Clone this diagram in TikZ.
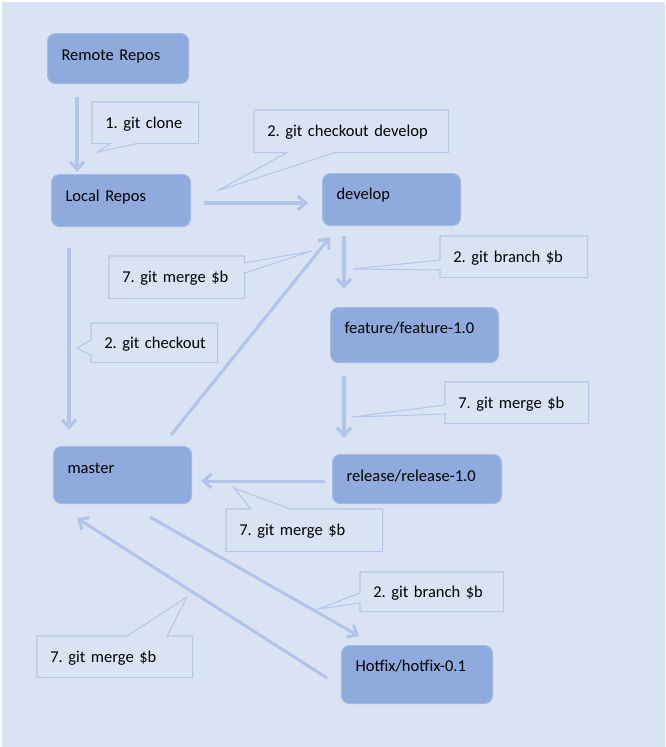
\documentclass[tikz,border=0pt]{standalone}
\usepackage{fontspec}
\setmainfont{Carlito}
\usetikzlibrary{arrows.meta,calc}
\definecolor{bgcol}{HTML}{DAE3F3}
\definecolor{boxfill}{HTML}{8FAADC}
\definecolor{boxline}{HTML}{A2B9E2}
\definecolor{cline}{HTML}{B4C7E7}
\definecolor{arrcol}{HTML}{B2C5E7}
\pgfdeclarelayer{back}
\pgfdeclarelayer{mid}
\pgfsetlayers{back,mid,main}
\tikzset{
  box/.style={draw=boxline, line width=0.8pt, fill=boxfill, rounded corners=6pt,
    anchor=north west, align=left, inner xsep=10.5pt, inner ysep=0pt,
    text height=8.5pt, font=\fontsize{12.4}{14}\selectfont\frenchspacing},
  ctext/.style={anchor=north west, align=left, inner xsep=9.75pt, inner ysep=0pt,
    text height=8.5pt, text depth=0.5pt, font=\fontsize{12.4}{14}\selectfont\frenchspacing},
  callshape/.style={draw=cline, line width=0.8pt, fill=bgcol, line join=miter},
  arr/.style={draw=arrcol, line width=2.3pt, -{Straight Barb[length=6pt,width=10.5pt]}},
}
\begin{document}
\begin{tikzpicture}[x=0.75pt,y=-0.75pt]
\useasboundingbox (0,0) rectangle (665,747);
\begin{pgfonlayer}{back}
\fill[bgcol] (2,2) rectangle (665,747);
\end{pgfonlayer}

% boxes
\node[box, minimum width=105.75pt, minimum height=37.5pt, text width=84.75pt, text depth=5pt] (remote) at (47,33) {Remote Repos};
\node[box, minimum width=104.25pt, minimum height=39pt, text width=83.25pt, text depth=7.25pt] (local) at (51,174) {Local Repos};
\node[box, minimum width=103.5pt, minimum height=39pt, text width=82.5pt, text depth=8pt] (develop) at (322,173) {develop};
\node[box, minimum width=126pt, minimum height=41.25pt, text width=105pt, text depth=11pt] (feature) at (330,307) {feature/feature-1.0};
\node[box, minimum width=126.75pt, minimum height=36.75pt, text width=105.75pt, text depth=4.25pt] (release) at (332,454) {release/release-1.0};
\node[box, minimum width=103.5pt, minimum height=42.75pt, text width=82.5pt, text depth=11pt] (master) at (53,446) {master};
\node[box, minimum width=113.25pt, minimum height=43.5pt, text width=92.25pt, text depth=12.5pt] (hotfix) at (341,645) {Hotfix/hotfix-0.1};

% callout texts
\node[ctext, minimum width=79.5pt, minimum height=30.75pt, text width=60pt] (c1) at (92,102) {\mbox{1. git clone}};
\node[ctext, minimum width=145.5pt, minimum height=31.5pt, text width=126pt] (c2) at (254,110) {\mbox{2. git checkout develop}};
\node[ctext, minimum width=101.25pt, minimum height=31.5pt, text width=81.75pt] (c3) at (109,256) {\mbox{7. git merge \$b}};
\node[ctext, minimum width=94.5pt, minimum height=29.25pt, text width=75pt] (c4) at (91,323) {\mbox{2. git checkout}};
\node[ctext, minimum width=110.25pt, minimum height=30.75pt, text width=90.75pt] (c5) at (440,236) {\mbox{2. git branch \$b}};
\node[ctext, minimum width=107.25pt, minimum height=30.75pt, text width=87.75pt] (c6) at (445,382) {\mbox{7. git merge \$b}};
\node[ctext, minimum width=117pt, minimum height=31.5pt, text width=97.5pt] (c7) at (226,509) {\mbox{7. git merge \$b}};
\node[ctext, minimum width=107.25pt, minimum height=29.25pt, text width=87.75pt] (c8) at (360,572) {\mbox{2. git branch \$b}};
\node[ctext, minimum width=116.25pt, minimum height=30.75pt, text width=96.75pt] (c9) at (37,636) {\mbox{7. git merge \$b}};

% pointer tips
\coordinate (t1) at (98,152);
\coordinate (t2) at (217,191);
\coordinate (t3) at (312,251);
\coordinate (t4) at (77,348);
\coordinate (t5) at (353,269);
\coordinate (t6) at (352,417);
\coordinate (t7) at (234,488);
\coordinate (t8) at (318,609);
\coordinate (t9) at (187,597);

\begin{pgfonlayer}{mid}
\path[callshape] (c1.north west) -- (c1.north east) -- (c1.south east) -- ($(c1.south west)+(45,0)$) -- (t1) -- ($(c1.south west)+(18,0)$) -- (c1.south west) -- cycle;
\path[callshape] (c2.north west) -- (c2.north east) -- (c2.south east) -- ($(c2.south west)+(81,0)$) -- (t2) -- ($(c2.south west)+(33,0)$) -- (c2.south west) -- cycle;
\path[callshape] (c3.north west) -- (c3.north east) -- ($(c3.north east)+(0,7)$) -- (t3) -- ($(c3.north east)+(0,17)$) -- (c3.south east) -- (c3.south west) -- cycle;
\path[callshape] (c4.north west) -- (c4.north east) -- (c4.south east) -- (c4.south west) -- ($(c4.north west)+(0,32)$) -- (t4) -- ($(c4.north west)+(0,17)$) -- cycle;
\path[callshape] (c5.north west) -- (c5.north east) -- (c5.south east) -- (c5.south west) -- ($(c5.north west)+(0,34)$) -- (t5) -- ($(c5.north west)+(0,24)$) -- cycle;
\path[callshape] (c6.north west) -- (c6.north east) -- (c6.south east) -- (c6.south west) -- ($(c6.north west)+(0,32)$) -- (t6) -- ($(c6.north west)+(0,23)$) -- cycle;
\path[callshape] (c7.north west) -- ($(c7.north west)+(25,0)$) -- (t7) -- ($(c7.north west)+(64,0)$) -- (c7.north east) -- (c7.south east) -- (c7.south west) -- cycle;
\path[callshape] (c8.north west) -- (c8.north east) -- (c8.south east) -- (c8.south west) -- ($(c8.north west)+(0,31)$) -- (t8) -- ($(c8.north west)+(0,21)$) -- cycle;
\path[callshape] (c9.north west) -- ($(c9.north west)+(90,0)$) -- (t9) -- ($(c9.north west)+(130,0)$) -- (c9.north east) -- (c9.south east) -- (c9.south west) -- cycle;
\end{pgfonlayer}

% arrows
\begin{pgfonlayer}{back}
\draw[arr] ($(remote.south west)+(30,13)$) -- ($(local.north west)+(26,-2)$);
\draw[arr] ($(local.north east)+(13,29)$) -- ($(develop.north west)+(-14,30)$);
\draw[arr] ($(local.south west)+(18,21)$) -- ($(master.north west)+(16,-16)$);
\draw[arr] ($(master.north west)+(118,-11)$) -- ($(develop.south west)+(8,11)$);
\draw[arr] ($(develop.south west)+(22,10)$) -- ($(feature.north west)+(14,-18)$);
\draw[arr] ($(feature.south west)+(14,13)$) -- ($(release.north west)+(12,-16)$);
\draw[arr] ($(release.south west)+(-7,-23)$) -- ($(master.south east)+(9,-23)$);
\draw[arr] ($(master.south west)+(97,13)$) -- ($(hotfix.north west)+(18,-9)$);
\draw[arr] ($(hotfix.north west)+(-14,33)$) -- ($(master.south west)+(24,14)$);
\end{pgfonlayer}
\end{tikzpicture}
\end{document}
